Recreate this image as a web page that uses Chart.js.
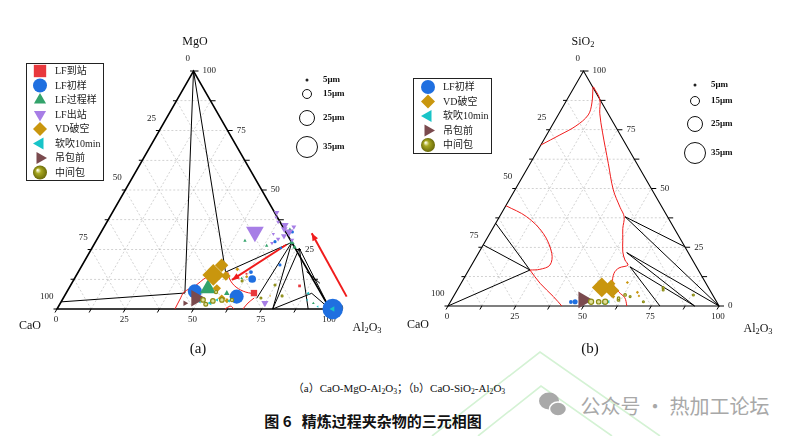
<!DOCTYPE html>
<html>
<head>
<meta charset="utf-8">
<script src="https://cdn.jsdelivr.net/npm/chart.js@4.4.0/dist/chart.umd.min.js"></script>
<style>
body{margin:0;width:800px;height:436px;background:#fff;position:relative;overflow:hidden;font-family:"Liberation Serif","Noto Sans CJK SC",serif;color:#111}
canvas{position:absolute;top:0}
.t{position:absolute;transform:translate(-50%,-50%);white-space:nowrap;font-size:12px}
.t sub{font-size:70%;vertical-align:-2px}
</style>
</head>
<body>
<svg width="800" height="436" style="position:absolute;left:0;top:0">
  <g stroke="#d4f2d4" stroke-width="1.6" fill="none">
    <polyline points="432,436 540,352 660,436"/>
    <polyline points="478,436 541,386 612,436"/>
  </g>
  <ellipse cx="549" cy="401" rx="10" ry="8.5" fill="#a9a9a9"/>
  <ellipse cx="558" cy="409" rx="8.5" ry="7" fill="#a9a9a9" stroke="#fff" stroke-width="1.5"/>
</svg>
<canvas id="chartA" width="400" height="340" style="left:0"></canvas>
<canvas id="chartB" width="400" height="340" style="left:400px"></canvas>

<div class="t" style="left:195px;top:41px">MgO</div>
<div class="t" style="left:30px;top:325px">CaO</div>
<div class="t" style="left:367px;top:327px">Al<sub>2</sub>O<sub>3</sub></div>
<div class="t" style="left:583px;top:41px">SiO<sub>2</sub></div>
<div class="t" style="left:418px;top:324px">CaO</div>
<div class="t" style="left:758px;top:328px">Al<sub>2</sub>O<sub>3</sub></div>
<div class="t" style="left:198px;top:348px;font-size:15px">(a)</div>
<div class="t" style="left:590px;top:348px;font-size:15px">(b)</div>
<div class="t" style="left:399px;top:387px;font-size:11px">（a）CaO-MgO-Al<sub>2</sub>O<sub>3</sub>；（b）CaO-SiO<sub>2</sub>-Al<sub>2</sub>O<sub>3</sub></div>
<div class="t" style="left:373px;top:420px;font-size:15px;font-family:'Noto Sans CJK SC',sans-serif;font-weight:bold">图 6&nbsp;&nbsp;&nbsp;精炼过程夹杂物的三元相图</div>
<div class="t" style="left:675px;top:405px;font-size:20px;font-family:'Noto Sans CJK SC',sans-serif;color:#a8a8a8">公众号 · 热加工论坛</div>

<script>
// ---- data: ternary compositions ----
// (a) CaO-MgO-Al2O3 : [Al2O3 %, MgO %, size μm]
var aLfArrive  = [[68.8,6.7,14],[84,9.7,6],[62,14.8,4]];
var aLfFirst   = [[46.8,7.4,22],[63.2,5.2,22],[65.2,12.6,12],[63.3,15.5,6],[101,0,32],[72.4,18.5,5],[69.2,25.6,4],[70,32.4,5],[65.7,28.3,5]];
var aLfProcess = [[51,8.6,29],[54.5,28.7,6],[63.5,26.6,6],[72,28,10],[68.7,33.2,8],[58.9,6.6,10],[74,26,8],[61.2,12.9,5],[92.7,2.4,5]];
var aLfLeave   = [[56.3,32.4,32],[60.2,40.5,10],[62.7,36.6,7],[65.9,35.3,13],[68.8,32.4,15],[67.8,30.7,11],[66.3,29.4,8],[64.9,27.7,7],[71.6,29,8],[66.5,33.5,12],[69.5,34.5,9],[63.5,31.5,6],[61,38.5,6],[74.9,2.5,13]];
var aVd        = [[50.1,14.3,34],[51.1,18.4,21],[54.9,13.9,15],[54.2,8.7,13],[58.1,4.5,12],[57.7,16.7,6],[62.7,13.6,5],[75.3,5.5,3],[60.5,3.5,8]];
var aSoft      = [[54.8,2.5,8],[56.7,3.8,6],[61.3,3.4,6],[50.9,2.9,5],[88.7,6.6,6],[89.7,3.8,4],[101,0,10],[95,1,4]];
var aBefore    = [[48.7,4.5,30],[45.7,2.4,10],[102,0,16]];
var aTundish   = [[51.6,3.8,7],[55.4,3.4,7],[58.5,3.8,7],[54.7,7.1,5],[62.2,3.8,5],[61.9,11.8,3],[72.4,4.6,3],[79.7,5.5,3],[74.8,10.1,3],[53.5,2,6]];
var aTieLines  = [
  [[0,100],[43.5,6.7]], [[0,3],[43.5,6.7]], [[0,100],[54,15.5]], [[54,15.5],[72,28]],
  [[72,28],[79,0]], [[76,25.5],[79,0]], [[72,28],[70.9,4.5]], [[76,25.5],[92,0]],
  [[76,25.5],[100,0]], [[79,0],[90,6.6]], [[90,6.6],[100,0]], [[83.6,15.7],[90.9,10.8]]
];
var aRedCurves = [
  [[43.2,0],[43,4.2],[43,7.1],[45.7,9.7],[48.2,13.4],[51.5,14.8]],
  [[54.8,15.5],[57.3,12.2],[61,9.2],[65.6,7.1],[70.1,6.3]],
  [[68.1,0],[68.7,2.5],[69.9,4.6]],
  [[61.5,0],[63,1.2],[64.8,0]]
];
var aArrows = [[[70.5,27],[58,12.2]], [[103.5,5.2],[77.4,31.8]]];

// (b) CaO-SiO2-Al2O3 : [Al2O3 %, SiO2 %, size μm]
var bLfFirst = [[46,1.8,8],[44.5,1.7,6]];
var bVd      = [[52.8,7.9,31],[57.2,6.6,23],[55.5,9.5,13],[61.2,10,5],[67,5.8,5],[68.3,4.3,4],[59,4,6]];
var bSoft    = [[52.2,1.8,6],[56.8,1.1,6],[58.3,1.8,6]];
var bBefore  = [[48.6,2.6,30]];
var bTundish = [[51.9,1.8,8],[54.7,1.8,7],[57.1,1.8,8],[61.6,2.6,4],[63,4.7,4],[65.2,4,3],[71.2,1.8,3],[76,6.8,3],[88.2,4.7,3],[75.5,7.8,3],[61.3,3.3,4]];
var bTieLines = [
  [[0,0],[22.6,15.3]], [[0,26],[22.6,15.3]], [[0,35.2],[22.6,15.3]],
  [[46.3,38],[74.8,25.2]], [[46.3,38],[100,0]], [[54.6,22.7],[100,0]],
  [[54.6,22.7],[91,0]], [[58.8,16.7],[91,0]], [[58.8,16.7],[78.2,0]]
];
var bRedCurves = [
  [[0,68.5],[4.9,72.8],[8.9,76.6],[11.1,81.3],[9.9,86.4],[6.9,93.2]],
  [[7,93.3],[12,88],[15,82],[20,74],[28.8,60.7],[36.3,49.4],[42.5,42],[46,38],[48,33],[50.5,28],[53,23],[55.5,19.6],[57.7,17.4],[55,16.2],[54.3,13.9],[56,9.7],[60,6],[63.5,3.5],[66,0]],
  [[0,42.7],[10,38],[19.7,30.9],[27.1,22.4],[28.9,17.4],[26.1,15.6],[22.6,15.3]],
  [[22.6,15.3],[29.1,9.7],[36.9,4],[42,0]]
];

var tickLabels = ["0","25","50","75","100"];
var gridSteps = [12.5,25,37.5,50,62.5,75,87.5];
var tickSteps = [0,12.5,25,37.5,50,62.5,75,87.5,100];
var sizeLegend = [5,15,25,35];
var legendA = ["LF到站","LF初样","LF过程样","LF出站","VD破空","软吹10min","吊包前","中间包"];
var legendB = ["LF初样","VD破空","软吹10min","吊包前","中间包"];

var seriesStyle = {
  "LF到站":    {color:'#e8383d', shape:'rect', rot:0},
  "LF初样":    {color:'#1f6fe0', shape:'circle', rot:0},
  "LF过程样":  {color:'#33a36b', shape:'triangle', rot:0},
  "LF出站":    {color:'#a77ee6', shape:'triangle', rot:180},
  "VD破空":    {color:'#c9960e', shape:'rectRot', rot:0},
  "软吹10min": {color:'#18c4c8', shape:'triangle', rot:270},
  "吊包前":    {color:'#7a4a4e', shape:'triangle', rot:90},
  "中间包":    {color:'#8c8c14', shape:'circle', rot:0, ring:true}
};

var H = Math.sqrt(3) / 2;
var SIZE_K = 0.32;
function toXY(a, t) { return {x: a + t / 2, y: t * H}; }
function px(chart, a, t) {
  var p = toXY(a, t);
  return [chart.scales.x.getPixelForValue(p.x), chart.scales.y.getPixelForValue(p.y)];
}
function seg(ctx, p, q) { ctx.beginPath(); ctx.moveTo(p[0], p[1]); ctx.lineTo(q[0], q[1]); ctx.stroke(); }

function pointSets(list) {
  return list.map(function (s) {
    var st = seriesStyle[s[0]];
    return {
      label: s[0],
      data: s[1].map(function (p) { var q = toXY(p[0], p[1]); q.d = p[2]; return q; }),
      pointStyle: st.shape,
      pointRotation: st.rot,
      pointRadius: function (c) { return c.raw.d * SIZE_K; },
      backgroundColor: st.ring ? '#e0e09a' : st.color,
      borderColor: st.color,
      borderWidth: st.ring ? 1.2 : 0,
      clip: false,
      order: 1
    };
  });
}
function lineSets(lines, color, width, tension, arrow) {
  return lines.map(function (ln) {
    return {
      type: 'line', arrow: arrow,
      data: ln.map(function (p) { return toXY(p[0], p[1]); }),
      borderColor: color, borderWidth: width, pointRadius: 0,
      tension: tension, fill: false, clip: false, order: 5
    };
  });
}

function drawSym(ctx, name, x, y, r) {
  var st = seriesStyle[name];
  ctx.save();
  if (st.ring) {
    var g = ctx.createRadialGradient(x - r * 0.35, y - r * 0.35, 0.5, x, y, r);
    g.addColorStop(0, '#fbfbe0'); g.addColorStop(0.35, '#a8a820'); g.addColorStop(1, '#6a6a0a');
    ctx.fillStyle = g;
    ctx.beginPath(); ctx.arc(x, y, r, 0, Math.PI * 2); ctx.fill();
  } else {
    ctx.fillStyle = st.color;
    Chart.helpers.drawPoint(ctx, {pointStyle: st.shape, rotation: st.rot, radius: st.shape === 'rect' ? r * 1.25 : r, borderWidth: 0}, x, y);
  }
  ctx.restore();
}

function framePlugin(o) {
  return {
    id: 'frame',
    beforeDatasetsDraw: function (chart) {
      var ctx = chart.ctx;
      ctx.save();
      ctx.strokeStyle = '#b5b5b5'; ctx.lineWidth = 0.6; ctx.setLineDash([2, 2]);
      gridSteps.forEach(function (g) {
        seg(ctx, px(chart, 0, g), px(chart, 100 - g, g));
        seg(ctx, px(chart, g, 0), px(chart, g, 100 - g));
        seg(ctx, px(chart, 100 - g, 0), px(chart, 0, 100 - g));
      });
      ctx.setLineDash([]);
      ctx.strokeStyle = '#000'; ctx.lineWidth = o.edge;
      var A = px(chart, 0, 0), B = px(chart, 100, 0), C = px(chart, 0, 100);
      ctx.beginPath(); ctx.moveTo(A[0], A[1]); ctx.lineTo(B[0], B[1]); ctx.lineTo(C[0], C[1]); ctx.closePath(); ctx.stroke();
      ctx.lineWidth = 1;
      tickSteps.forEach(function (v) {
        var b = px(chart, v, 0); seg(ctx, b, [b[0] - 2, b[1] + 3.5]);
        var l = px(chart, 0, 100 - v); seg(ctx, l, [l[0] - 3.5, l[1]]);
        var r = px(chart, 100 - v, v); seg(ctx, r, [r[0] + 5, r[1]]);
      });
      ctx.fillStyle = '#222'; ctx.font = '9px "Liberation Serif"';
      tickLabels.forEach(function (lbl) {
        var v = parseFloat(lbl);
        var b = px(chart, v, 0);
        ctx.textAlign = 'center'; ctx.textBaseline = 'middle';
        ctx.fillText(lbl, b[0] - 1, b[1] + 11);
        var l = px(chart, 0, 100 - v);
        ctx.textAlign = 'right';
        ctx.fillText(lbl, l[0] - 3.5, l[1] - 12);
        var r = px(chart, 100 - v, v);
        ctx.textAlign = 'left';
        ctx.fillText(lbl, r[0] + 9, r[1]);
      });
      ctx.restore();
    },
    afterDatasetsDraw: function (chart) {
      var ctx = chart.ctx;
      ctx.save();
      chart.data.datasets.forEach(function (ds, i) {
        if (!ds.arrow) return;
        var pts = chart.getDatasetMeta(i).data;
        var p = pts[pts.length - 1], q = pts[pts.length - 2];
        var ang = Math.atan2(p.y - q.y, p.x - q.x), L = 8;
        ctx.fillStyle = ds.borderColor;
        ctx.beginPath();
        ctx.moveTo(p.x, p.y);
        ctx.lineTo(p.x - L * Math.cos(ang - 0.4), p.y - L * Math.sin(ang - 0.4));
        ctx.lineTo(p.x - L * Math.cos(ang + 0.4), p.y - L * Math.sin(ang + 0.4));
        ctx.closePath(); ctx.fill();
      });
      var lg = o.legend;
      ctx.fillStyle = '#fff'; ctx.strokeStyle = '#222'; ctx.lineWidth = 1;
      ctx.fillRect(lg.box[0], lg.box[1], lg.box[2] - lg.box[0], lg.box[3] - lg.box[1]);
      ctx.strokeRect(lg.box[0] + 0.5, lg.box[1] + 0.5, lg.box[2] - lg.box[0], lg.box[3] - lg.box[1]);
      lg.names.forEach(function (n, i) {
        var y = lg.y0 + i * lg.step;
        drawSym(ctx, n, lg.symX, y, 7);
        ctx.fillStyle = '#222'; ctx.font = '10px "Liberation Serif","Noto Sans CJK SC"';
        ctx.textAlign = 'left'; ctx.textBaseline = 'middle';
        ctx.fillText(n, lg.textX, y + 0.5);
      });
      var sl = o.sizes;
      sizeLegend.forEach(function (d, i) {
        var y = sl.ys[i], r = d * 0.3;
        ctx.beginPath(); ctx.arc(sl.x, y, r, 0, Math.PI * 2);
        if (i === 0) { ctx.fillStyle = '#222'; ctx.fill(); }
        else { ctx.strokeStyle = '#111'; ctx.lineWidth = 1; ctx.stroke(); }
        ctx.fillStyle = '#111'; ctx.font = 'bold 9px "Liberation Serif"';
        ctx.textAlign = 'left'; ctx.textBaseline = 'middle';
        ctx.fillText(d + 'μm', sl.tx, y);
      });
      ctx.restore();
    }
  };
}

function makeChart(id, datasets, pad, opts) {
  return new Chart(id, {
    type: 'scatter',
    data: {datasets: datasets},
    options: {
      responsive: false,
      animation: false,
      layout: {padding: pad},
      plugins: {legend: {display: false}, tooltip: {enabled: false}},
      scales: {
        x: {type: 'linear', min: 0, max: 100, display: false},
        y: {type: 'linear', min: 0, max: 100 * H, display: false}
      }
    },
    plugins: [framePlugin(opts)]
  });
}

var setsA = pointSets([
  ["中间包", aTundish], ["吊包前", aBefore], ["软吹10min", aSoft], ["VD破空", aVd],
  ["LF出站", aLfLeave], ["LF过程样", aLfProcess], ["LF初样", aLfFirst], ["LF到站", aLfArrive]
]).concat(lineSets(aArrows, '#f01c1c', 2, 0, true))
  .concat(lineSets(aRedCurves, '#f01c1c', 1, 0.35, false))
  .concat(lineSets(aTieLines, '#000', 1, 0, false));

makeChart('chartA', setsA, {left: 57, right: 70, top: 71, bottom: 31}, {
  edge: 1.6,
  legend: {names: legendA, box: [26, 63, 103, 180], symX: 40, textX: 55, y0: 71, step: 14.5},
  sizes: {x: 307, tx: 323, ys: [80, 94, 118, 147]}
});

var setsB = pointSets([
  ["中间包", bTundish], ["吊包前", bBefore], ["软吹10min", bSoft], ["VD破空", bVd], ["LF初样", bLfFirst]
]).concat(lineSets(bRedCurves, '#f01c1c', 1, 0.35, false))
  .concat(lineSets(bTieLines, '#000', 1, 0, false));

makeChart('chartB', setsB, {left: 48, right: 81, top: 71, bottom: 34}, {
  edge: 1.1,
  legend: {names: legendB, box: [13, 78, 91, 153], symX: 28, textX: 43, y0: 87, step: 14.5},
  sizes: {x: 295, tx: 311, ys: [85, 101, 124, 153]}
});
</script>
</body>
</html>
